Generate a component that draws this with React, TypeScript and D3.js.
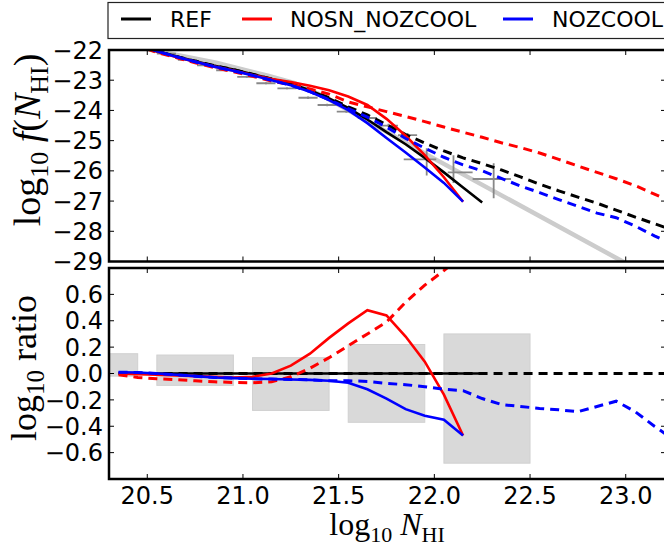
import React from "react";
import * as d3 from "d3";

// ---------- data ----------
const xGrid = [20.35, 20.45, 20.55, 20.65, 20.75, 20.85, 20.95, 21.05, 21.15, 21.25, 21.35, 21.45, 21.55, 21.65, 21.75, 21.85, 21.95, 22.05, 22.15, 22.25, 22.35, 22.45, 22.55, 22.65, 22.75, 22.85, 22.95, 23.05, 23.15, 23.25];

// top panel: log10 f(N_HI)
const refSolid = [-21.6, -21.82, -22.04, -22.21, -22.37, -22.52, -22.65, -22.80, -22.96, -23.12, -23.33, -23.6, -23.92, -24.3, -24.72, -25.12, -25.57, -26.05, -26.55, -27.05];
const nosnSolid = [-21.6, -21.83, -22.05, -22.23, -22.39, -22.55, -22.68, -22.83, -22.96, -23.06, -23.18, -23.33, -23.54, -23.82, -24.28, -24.84, -25.48, -26.21, -27.02];
const nozSolid = [-21.59, -21.81, -22.04, -22.22, -22.39, -22.55, -22.69, -22.84, -23.0, -23.17, -23.38, -23.66, -23.99, -24.42, -24.91, -25.39, -25.89, -26.4, -27.02];
const refDashed = [-21.6, -21.82, -22.04, -22.21, -22.37, -22.52, -22.65, -22.80, -22.96, -23.12, -23.33, -23.58, -23.88, -24.15, -24.47, -24.8, -25.08, -25.34, -25.57, -25.76, -25.97, -26.2, -26.44, -26.66, -26.87, -27.07, -27.3, -27.53, -27.75, -27.97];
const nosnDashed = [-21.61, -21.85, -22.08, -22.25, -22.42, -22.58, -22.72, -22.87, -23.03, -23.15, -23.29, -23.46, -23.72, -23.88, -24.04, -24.2, -24.37, -24.55, -24.72, -24.89, -25.07, -25.23, -25.41, -25.62, -25.84, -26.05, -26.26, -26.49, -26.77, -27.05];
const nozDashed = [-21.59, -21.81, -22.04, -22.22, -22.39, -22.55, -22.69, -22.84, -23.0, -23.17, -23.38, -23.64, -23.94, -24.22, -24.55, -24.93, -25.25, -25.55, -25.8, -26.0, -26.25, -26.5, -26.72, -26.95, -27.17, -27.4, -27.55, -27.83, -28.15, -28.45];

// fit line (grey)
const fitX = [20.3, 20.86, 21.13, 21.27, 21.41, 21.6, 21.98, 22.97, 23.22];
const fitY = [-21.72, -22.42, -22.85, -23.1, -23.5, -24.17, -25.53, -28.95, -29.8];

// observational points (grey)
const obsX = [20.6, 20.71, 20.81, 20.91, 21.02, 21.12, 21.23, 21.34, 21.44, 21.54, 21.65, 21.76, 21.86, 21.96, 22.1, 22.31];
const obsY = [-22.12, -22.33, -22.51, -22.67, -22.89, -23.10, -23.27, -23.58, -23.82, -24.04, -24.25, -24.5, -24.82, -25.62, -26.05, -26.27];
const obsXLo = [20.55, 20.66, 20.76, 20.86, 20.97, 21.07, 21.18, 21.29, 21.39, 21.49, 21.6, 21.71, 21.81, 21.84, 22.07, 22.2];
const obsXHi = [20.65, 20.76, 20.86, 20.96, 21.07, 21.17, 21.28, 21.39, 21.49, 21.59, 21.7, 21.81, 21.91, 22.01, 22.2, 22.4];
const obsYLo = [-22.15, -22.36, -22.54, -22.70, -22.92, -23.13, -23.30, -23.62, -23.86, -24.08, -24.3, -24.56, -24.89, -26.15, -26.4, -26.91];
const obsYHi = [-22.09, -22.30, -22.48, -22.64, -22.86, -23.07, -23.24, -23.54, -23.78, -24.0, -24.2, -24.44, -24.75, -25.25, -25.48, -25.75];

// bottom panel: log10 ratio
const refRatio = [0, 0, 0, 0, 0, 0, 0, 0, 0, 0, 0, 0, 0, 0, 0, 0, 0, 0, 0, 0];
const refRatioDashed = [0, 0, 0, 0, 0, 0, 0, 0, 0, 0, 0, 0, 0, 0, 0, 0, 0, 0, 0, 0, 0, 0, 0, 0, 0, 0, 0, 0, 0, 0];
const nosnRatio = [0.0, -0.005, -0.01, -0.015, -0.02, -0.025, -0.03, -0.025, 0.0, 0.06, 0.15, 0.27, 0.38, 0.48, 0.44, 0.28, 0.09, -0.16, -0.47];
const nosnRatioDashed = [-0.01, -0.03, -0.04, -0.047, -0.055, -0.063, -0.068, -0.07, -0.063, -0.025, 0.04, 0.12, 0.21, 0.30, 0.39, 0.54, 0.67, 0.78, 0.9];
const nozRatio = [0.01, 0.008, 0.0, -0.01, -0.02, -0.03, -0.035, -0.04, -0.042, -0.045, -0.048, -0.055, -0.07, -0.12, -0.19, -0.27, -0.32, -0.35, -0.47];
const nozRatioDashed = [0.01, 0.008, 0.0, -0.01, -0.02, -0.03, -0.035, -0.04, -0.042, -0.045, -0.048, -0.055, -0.055, -0.06, -0.075, -0.085, -0.1, -0.12, -0.13, -0.19, -0.235, -0.25, -0.265, -0.275, -0.29, -0.25, -0.21, -0.29, -0.4, -0.5];

// grey error boxes
const boxX0 = [20.05, 20.55, 21.05, 21.55, 22.05];
const boxX1 = [20.45, 20.95, 21.45, 21.95, 22.5];
const boxLo = [-0.02, -0.09, -0.28, -0.37, -0.68];
const boxHi = [0.15, 0.14, 0.12, 0.22, 0.30];

const xTicks = [20.5, 21.0, 21.5, 22.0, 22.5, 23.0];
const yTopTicks = [-22, -23, -24, -25, -26, -27, -28, -29];
const yBotTicks = [-0.6, -0.4, -0.2, 0.0, 0.2, 0.4, 0.6];

const legendNames = ["REF", "NOSN_NOZCOOL", "NOZCOOL"];
const legendColors = ["#000000", "#ff0000", "#0000ff"];

// ---------- layout ----------
const L = 109, R = 664, RF = 666;
const TOP0 = 50, TOP1 = 261.5, BOT0 = 268, BOT1 = 479;
const TICKFONT = "'DejaVu Sans', sans-serif";
const SERIF = "'Liberation Serif', 'DejaVu Serif', serif";

const fmtMinus = (s: string) => s.replace("-", "\u2212");

export default function App() {
  const x = d3.scaleLinear().domain([20.3, 23.2]).range([L, R]);
  const yT = d3.scaleLinear().domain([-22, -29]).range([TOP0, TOP1]);
  const yB = d3.scaleLinear().domain([0.8, -0.8]).range([BOT0, BOT1]);

  const lineT = (xs: number[], ys: number[]) =>
    d3.line<number>().x((_, i) => x(xs[i])).y((d) => yT(d))(ys) || "";
  const lineB = (xs: number[], ys: number[]) =>
    d3.line<number>().x((_, i) => x(xs[i])).y((d) => yB(d))(ys) || "";

  const DASH = "9,6";
  const SW = 2.6;
  const DW = 3;

  const ticksFor = (y0: number, y1: number, yScale: any, yt: number[]) => (
    <g stroke="#000" strokeWidth={1}>
      {xTicks.map((t) => (
        <g key={"x" + t}>
          <line x1={x(t)} x2={x(t)} y1={y0} y2={y0 + 5} />
          <line x1={x(t)} x2={x(t)} y1={y1} y2={y1 - 5} />
        </g>
      ))}
      {yt.map((t) => (
        <g key={"y" + t}>
          <line x1={L} x2={L + 5} y1={yScale(t)} y2={yScale(t)} />
          <line x1={RF} x2={RF - 5} y1={yScale(t)} y2={yScale(t)} />
        </g>
      ))}
    </g>
  );

  return (
    <svg width={664} height={548} style={{ position: "absolute", left: 0, top: 0, background: "#fff" }}>
      <defs>
        <clipPath id="clipTop">
          <rect x={L} y={TOP0} width={RF - L} height={TOP1 - TOP0} />
        </clipPath>
        <clipPath id="clipBot">
          <rect x={L} y={BOT0} width={RF - L} height={BOT1 - BOT0} />
        </clipPath>
      </defs>
      <rect x={0} y={0} width={664} height={548} fill="#fff" />

      {/* ---------- top panel ---------- */}
      <g clipPath="url(#clipTop)">
        <path d={d3.line<number>().x((_, i) => x(fitX[i])).y((d) => yT(d))(fitY) || ""} fill="none" stroke="#cccccc" strokeWidth={4.5} />
        <g stroke="#888888" strokeWidth={1.8} fill="none">
          {obsX.map((v, i) => (
            <g key={"o" + i}>
              <line x1={x(obsXLo[i])} x2={x(obsXHi[i])} y1={yT(obsY[i])} y2={yT(obsY[i])} />
              <line x1={x(v)} x2={x(v)} y1={yT(obsYLo[i])} y2={yT(obsYHi[i])} />
            </g>
          ))}
        </g>
        <path d={lineT(xGrid, refSolid)} fill="none" stroke="#000" strokeWidth={SW} />
        <path d={lineT(xGrid, refDashed)} fill="none" stroke="#000" strokeWidth={DW} strokeDasharray={DASH} />
        <path d={lineT(xGrid, nosnSolid)} fill="none" stroke="#ff0000" strokeWidth={SW} />
        <path d={lineT(xGrid, nosnDashed)} fill="none" stroke="#ff0000" strokeWidth={DW} strokeDasharray={DASH} />
        <path d={lineT(xGrid, nozSolid)} fill="none" stroke="#0000ff" strokeWidth={SW} />
        <path d={lineT(xGrid, nozDashed)} fill="none" stroke="#0000ff" strokeWidth={DW} strokeDasharray={DASH} />
      </g>
      {ticksFor(TOP0, TOP1, yT, yTopTicks)}
      <rect x={L} y={TOP0} width={RF - L} height={TOP1 - TOP0} fill="none" stroke="#000" strokeWidth={2.5} />
      <g fontFamily={TICKFONT} fontSize={24} fill="#000" textAnchor="end">
        {yTopTicks.map((t) => (
          <text key={t} x={103} y={yT(t)} dy="0.36em">{fmtMinus(String(t))}</text>
        ))}
      </g>

      {/* ---------- bottom panel ---------- */}
      <g clipPath="url(#clipBot)">
        {boxX0.map((v, i) => (
          <rect key={"b" + i} x={x(v)} y={yB(boxHi[i])} width={x(boxX1[i]) - x(v)} height={yB(boxLo[i]) - yB(boxHi[i])} fill="#d9d9d9" stroke="#d0d0d0" strokeWidth={1} />
        ))}
        <path d={lineB(xGrid, refRatioDashed)} fill="none" stroke="#000" strokeWidth={DW} strokeDasharray={DASH} />
        <path d={lineB(xGrid, refRatio)} fill="none" stroke="#000" strokeWidth={SW} />
        <path d={lineB(xGrid, nosnRatio)} fill="none" stroke="#ff0000" strokeWidth={SW} />
        <path d={lineB(xGrid, nosnRatioDashed)} fill="none" stroke="#ff0000" strokeWidth={DW} strokeDasharray={DASH} />
        <path d={lineB(xGrid, nozRatio)} fill="none" stroke="#0000ff" strokeWidth={SW} />
        <path d={lineB(xGrid, nozRatioDashed)} fill="none" stroke="#0000ff" strokeWidth={DW} strokeDasharray={DASH} />
      </g>
      {ticksFor(BOT0, BOT1, yB, yBotTicks)}
      <rect x={L} y={BOT0} width={RF - L} height={BOT1 - BOT0} fill="none" stroke="#000" strokeWidth={2.5} />
      <g fontFamily={TICKFONT} fontSize={24} fill="#000" textAnchor="end">
        {yBotTicks.map((t) => (
          <text key={t} x={103} y={yB(t)} dy="0.36em">{fmtMinus(t.toFixed(1))}</text>
        ))}
      </g>
      <g fontFamily={TICKFONT} fontSize={24} fill="#000" textAnchor="middle">
        {xTicks.map((t) => (
          <text key={t} x={x(t)} y={504}>{t.toFixed(1)}</text>
        ))}
      </g>

      {/* ---------- axis labels ---------- */}
      <text x={387} y={535} fontFamily={SERIF} fontSize={32} textAnchor="middle" fill="#000">
        log<tspan fontSize={22} dy={7}>10</tspan><tspan dy={-7}> </tspan><tspan fontStyle="italic">N</tspan><tspan fontSize={22} dy={7}>HI</tspan>
      </text>
      <text transform="translate(40,140) rotate(-90)" fontFamily={SERIF} fontSize={38} textAnchor="middle" fill="#000">
        log<tspan fontSize={26} dy={8}>10</tspan><tspan dy={-8}> </tspan><tspan fontStyle="italic">f</tspan>(<tspan fontStyle="italic">N</tspan><tspan fontSize={26} dy={8}>HI</tspan><tspan dy={-8}>)</tspan>
      </text>
      <text transform="translate(36,368) rotate(-90)" fontFamily={SERIF} fontSize={36} textAnchor="middle" fill="#000">
        log<tspan fontSize={25} dy={8}>10</tspan><tspan dy={-8}> ratio</tspan>
      </text>

      {/* ---------- legend ---------- */}
      <rect x={108} y={2.5} width={600} height={36} fill="#fff" stroke="#222" strokeWidth={1.2} />
      {legendNames.map((n, i) => {
        const lx = [121, 242, 503][i];
        const tx = [170, 290, 552][i];
        return (
          <g key={n}>
            <line x1={lx} x2={lx + 30} y1={19} y2={19} stroke={legendColors[i]} strokeWidth={3} />
            <text x={tx} y={26.5} fontFamily={TICKFONT} fontSize={22} fill="#000">{n}</text>
          </g>
        );
      })}
    </svg>
  );
}
